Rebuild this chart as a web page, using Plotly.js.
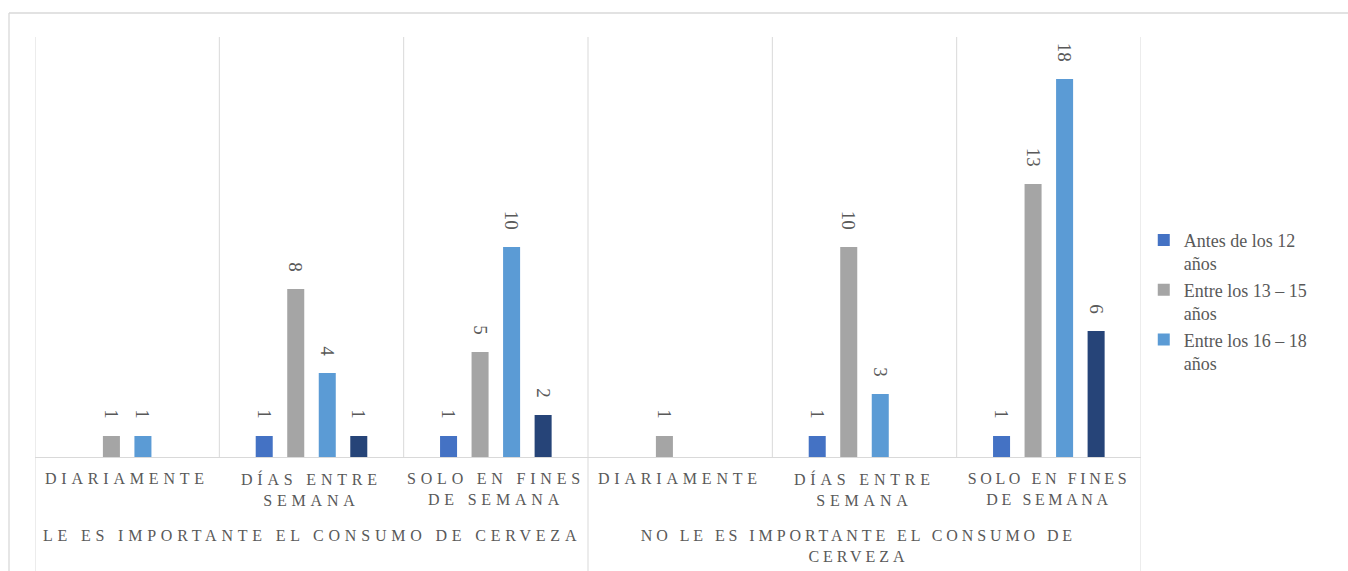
<!DOCTYPE html>
<html>
<head>
<meta charset="utf-8">
<script src="https://cdn.plot.ly/plotly-3.0.1.min.js"></script>
<style>
  html, body { margin: 0; padding: 0; background: #ffffff; }
  #chart { width: 1348px; height: 571px; }
  .annotation-text { letter-spacing: 4.8px; }
  .annotation[data-index="5"] .annotation-text { letter-spacing: 3.6px; }
  .annotation[data-index="7"] .annotation-text { letter-spacing: 3.9px; }
</style>
</head>
<body>
<div id="chart"></div>
<script>
// ---- data ----
const groups = ['LE ES IMPORTANTE EL CONSUMO DE CERVEZA', 'NO LE ES IMPORTANTE EL CONSUMO DE<br>CERVEZA'];
const frequencies = ['DIARIAMENTE', 'DÍAS ENTRE<br>SEMANA', 'SOLO EN FINES<br>DE SEMANA'];
const seriesNames = ['Antes de los 12<br>años', 'Entre los 13 – 15<br>años', 'Entre los 16 – 18<br>años', 'Después de los 18 años'];
const antes12   = [null, 1, 1,  null, 1, 1];
const entre1315 = [1,    8, 5,  1,    10, 13];
const entre1618 = [1,    4, 10, null, 3, 18];
const despues18 = [null, 1, 2,  null, null, 6];
const seriesColors = ['#4472C4', '#A5A5A5', '#5B9BD5', '#264478'];

// ---- category keys ----
const keys = [];
groups.forEach((g, gi) => frequencies.forEach((f, fi) => keys.push(gi + '-' + fi)));

const seriesValues = [antes12, entre1315, entre1618, despues18];
const serif = 'Liberation Serif, Times New Roman, serif';
const labelFont = {family: serif, size: 19, color: '#595959'};

const traces = seriesValues.map((vals, i) => ({
  type: 'bar',
  name: seriesNames[i],
  x: keys,
  y: vals,
  marker: {color: seriesColors[i]},
  texttemplate: '%{y}\u00a0\u00a0\u00a0',
  textposition: 'outside',
  textangle: 90,
  textfont: labelFont,
  cliponaxis: false,
  constraintext: 'none',
  showlegend: i < 3,
  hoverinfo: 'x+y+name'
}));

const gridColor = '#d9d9d9';
const shapes = [];
// category boundaries
for (let b = 0; b <= keys.length; b++) {
  const isGroup = (b % frequencies.length === 0);
  shapes.push({
    type: 'line', xref: 'x', yref: 'paper',
    x0: b - 0.5, x1: b - 0.5,
    y0: isGroup ? -0.32 : 0, y1: 1,
    line: {color: gridColor, width: 1}, layer: 'below'
  });
}
// outer chart border (top + left)
shapes.push({type: 'line', xref: 'paper', yref: 'paper', x0: -0.0235, x1: -0.0235, y0: -0.32, y1: 1.0571, line: {color: gridColor, width: 1.3}});
shapes.push({type: 'line', xref: 'paper', yref: 'paper', x0: -0.0235, x1: 1.25, y0: 1.0571, y1: 1.0571, line: {color: gridColor, width: 1.3}});

const axisFont = {family: serif, size: 16, color: '#595959'};
const annotations = [];
keys.forEach((k, i) => {
  annotations.push({
    xref: 'x', yref: 'paper', x: k, y: -0.026, yanchor: 'top', xanchor: 'center',
    text: frequencies[i % frequencies.length], showarrow: false, font: axisFont, align: 'center'
  });
});
groups.forEach((g, gi) => {
  annotations.push({
    xref: 'x', yref: 'paper', x: gi * frequencies.length + (frequencies.length - 1) / 2, y: -0.162,
    yanchor: 'top', xanchor: 'center', xshift: gi === 1 ? -6 : 0,
    text: g, showarrow: false, font: axisFont, align: 'center'
  });
});

const layout = {
  width: 1348, height: 571,
  margin: {l: 35, r: 207, t: 37, b: 114, pad: 0},
  paper_bgcolor: '#ffffff', plot_bgcolor: '#ffffff',
  barmode: 'group', bargap: 0.316, bargroupgap: 0.46,
  xaxis: {
    type: 'category', categoryorder: 'array', categoryarray: keys,
    showticklabels: false, ticks: '', showgrid: false, zeroline: false,
    showline: true, linecolor: gridColor, linewidth: 1,
    range: [-0.5, keys.length - 0.5], fixedrange: true
  },
  yaxis: {
    range: [0, 20], showticklabels: false, showgrid: false, zeroline: false,
    showline: false, ticks: '', fixedrange: true
  },
  legend: {
    x: 1.0025, xanchor: 'left', y: 0.56, yanchor: 'top',
    font: {family: serif, size: 18, color: '#595959'},
    valign: 'top', bgcolor: 'rgba(0,0,0,0)', borderwidth: 0, traceorder: 'normal'
  },
  shapes: shapes,
  annotations: annotations,
  showlegend: true
};

Plotly.newPlot('chart', traces, layout, {displayModeBar: false, staticPlot: true});
</script>
</body>
</html>
